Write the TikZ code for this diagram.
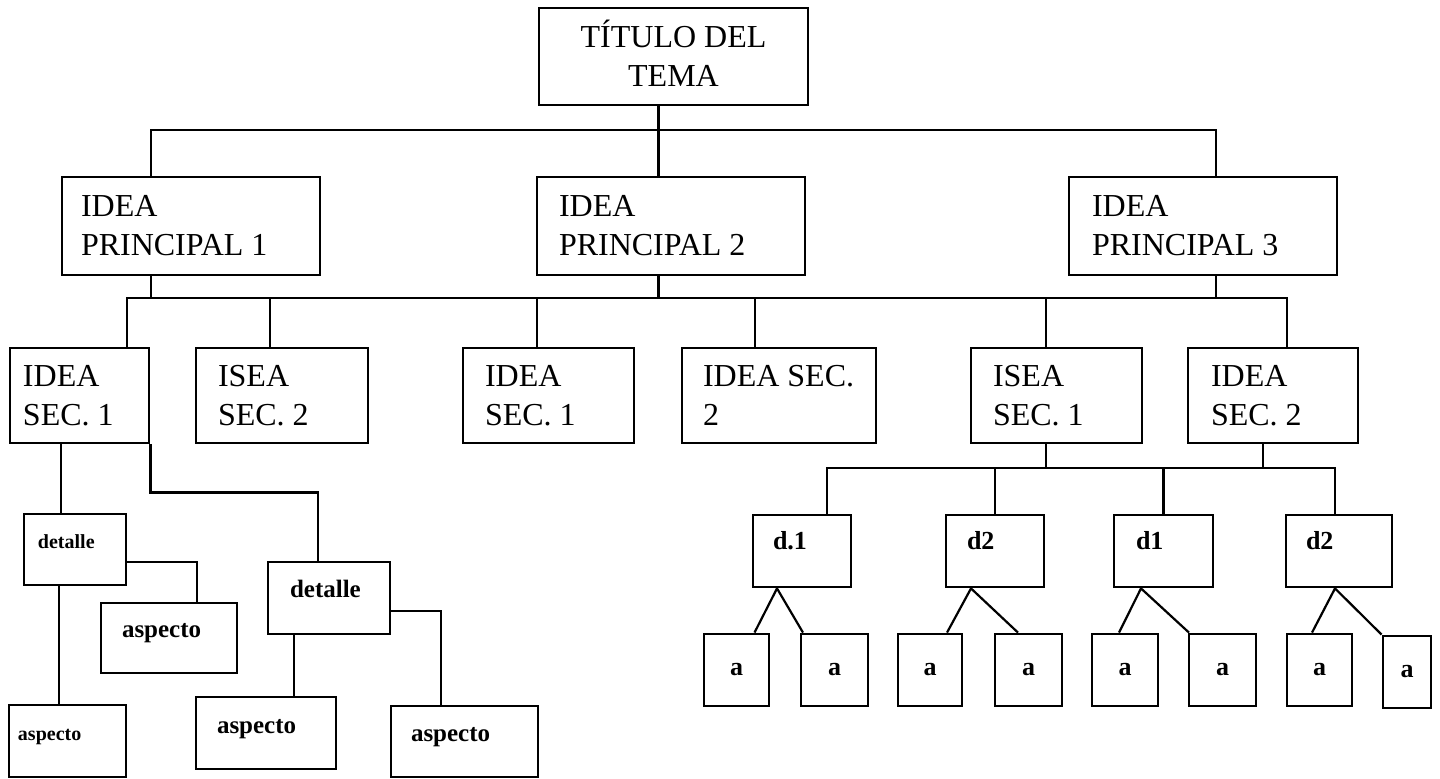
\documentclass[tikz,border=0pt]{standalone}
\usepackage{fontspec}
\setmainfont{Liberation Serif}
\frenchspacing

\begin{document}
\begin{tikzpicture}[x=0.5pt, y=-0.5pt,
	ideabox/.style={draw, line width=1.4pt, inner sep=0pt, align=flush left, font=\fontsize{16pt}{19.5pt}\selectfont},
	detbox/.style={draw, line width=1.4pt, inner sep=0pt, align=flush left, font=\bfseries\fontsize{12.5pt}{14pt}\selectfont, text height=17.5pt, text depth=18pt},
	abox/.style={draw, line width=1.4pt, inner sep=0pt, align=center, font=\bfseries\fontsize{13pt}{15pt}\selectfont, text height=20.5pt, text depth=15.5pt},
	conn/.style={line width=1.1pt}]
	\useasboundingbox (0,0) rectangle (1440,778);

	% Title
	\node[ideabox, align=center, minimum width=134.5pt, minimum height=48.5pt] (titulo) at (673.5,56.5) {T\smash{Í}TULO DEL\\TEMA};

	% Main ideas
	\node[ideabox, minimum width=129pt, minimum height=49pt, text width=110pt] (ideaA) at (191,226) {IDEA\\PRINCIPAL 1};
	\node[ideabox, minimum width=134pt, minimum height=49pt, text width=112pt] (ideaB) at (671,226) {IDEA\\PRINCIPAL 2};
	\node[ideabox, minimum width=134pt, minimum height=49pt, text width=111pt] (ideaC) at (1203,226) {IDEA\\PRINCIPAL 3};

	% Secondary ideas
	\node[ideabox, minimum width=69.5pt, minimum height=47.5pt, text width=56.5pt] (secA) at (79.5,395.5) {IDEA\\SEC. 1};
	\node[ideabox, minimum width=86pt, minimum height=47.5pt, text width=64pt] (secB) at (282,395.5) {ISEA\\SEC. 2};
	\node[ideabox, minimum width=85.5pt, minimum height=47.5pt, text width=63.5pt] (secC) at (548.5,395.5) {IDEA\\SEC. 1};
	\node[ideabox, minimum width=97pt, minimum height=47.5pt, text width=76pt] (secD) at (779,395.5) {IDEA~SEC.\\2};
	\node[ideabox, minimum width=85.5pt, minimum height=47.5pt, text width=63.5pt] (secE) at (1056.5,395.5) {ISEA\\SEC. 1};
	\node[ideabox, minimum width=85pt, minimum height=47.5pt, text width=62pt] (secF) at (1273,395.5) {IDEA\\SEC. 2};

	% Details and aspects (left)
	\node[detbox, font=\bfseries\fontsize{10pt}{12pt}\selectfont, minimum width=51pt, text width=37pt, text height=17pt, text depth=18.5pt] (detA) at (75,549.5) {detalle};
	\node[detbox, minimum width=61pt, text width=39pt, text depth=18.5pt] (detB) at (329,598) {detalle};
	\node[detbox, minimum width=68pt, text width=47pt, text height=17pt] (aspA) at (169,638) {aspecto};
	\node[detbox, font=\bfseries\fontsize{10pt}{12pt}\selectfont, minimum width=58.5pt, text width=49.5pt, text depth=18.5pt] (aspB) at (67.5,741) {aspecto};
	\node[detbox, minimum width=70pt, text width=49pt, text height=18pt] (aspC) at (266,733) {aspecto};
	\node[detbox, minimum width=73.5pt, text width=53.5pt] (aspD) at (464.5,741.5) {aspecto};

	% Details (right)
	\node[detbox, font=\bfseries\fontsize{13pt}{15pt}\selectfont, minimum width=49pt, text width=29pt, text height=17pt, text depth=19pt] (dA) at (802,551) {d.1};
	\node[detbox, font=\bfseries\fontsize{13pt}{15pt}\selectfont, minimum width=49pt, text width=28pt, text height=17pt, text depth=19pt] (dB) at (995,551) {d2};
	\node[detbox, font=\bfseries\fontsize{13pt}{15pt}\selectfont, minimum width=49.5pt, text width=27.5pt, text height=17pt, text depth=19pt] (dC) at (1163.5,551) {d1};
	\node[detbox, font=\bfseries\fontsize{13pt}{15pt}\selectfont, minimum width=53pt, text width=33pt, text height=17pt, text depth=19pt] (dD) at (1339,551) {d2};

	% Aspects (right)
	\node[abox, minimum width=32.5pt] (aA) at (736.5,670) {a};
	\node[abox, minimum width=33.5pt] (aB) at (834.5,670) {a};
	\node[abox, minimum width=32pt] (aC) at (930,670) {a};
	\node[abox, minimum width=33.5pt] (aD) at (1028.5,670) {a};
	\node[abox, minimum width=33pt] (aE) at (1125,670) {a};
	\node[abox, minimum width=33.5pt] (aF) at (1222.5,670) {a};
	\node[abox, minimum width=32.5pt] (aG) at (1319.5,670) {a};
	\node[abox, minimum width=24pt] (aH) at (1407,672) {a};

	% Level 1
	\coordinate (busone) at (658.5,130);
	\draw[conn] ([xshift=-7.5pt]titulo.south) -- (busone) -- ([xshift=-6.25pt]ideaB.north);
	\draw[conn] ([xshift=-20pt]ideaA.north) |- (busone) -| ([xshift=6.5pt]ideaC.north);

	% Level 2
	\coordinate (bustwo) at (658.5,298);
	\draw[conn] ([xshift=-6.25pt]ideaB.south) -- (bustwo);
	\draw[conn] ([xshift=-20pt]ideaA.south) -- ([xshift=-20pt]ideaA.south |- bustwo);
	\draw[conn] ([xshift=6.5pt]ideaC.south) -- ([xshift=6.5pt]ideaC.south |- bustwo);
	\draw[conn] ([xshift=23.75pt]secA.north) |- (bustwo) -| ([xshift=7pt]secF.north);
	\draw[conn] ([xshift=-6pt]secB.north) -- ([xshift=-6pt]secB.north |- bustwo);
	\draw[conn] ([xshift=-5.75pt]secC.north) -- ([xshift=-5.75pt]secC.north |- bustwo);
	\draw[conn] ([xshift=-12pt]secD.north) -- ([xshift=-12pt]secD.north |- bustwo);
	\draw[conn] ([xshift=-5.25pt]secE.north) -- ([xshift=-5.25pt]secE.north |- bustwo);

	% Level 3 (left)
	\draw[conn] ([xshift=-7pt]detA.north |- secA.south) -- ([xshift=-7pt]detA.north);
	\draw[conn] (secA.south east) -- ++(0,48) -| ([xshift=-5.5pt]detB.north);
	\draw[conn] ([yshift=-6.25pt]detA.east) -| ([xshift=14pt]aspA.north);
	\draw[conn] ([xshift=-8pt]detA.south) -- ([xshift=-8pt]detA.south |- aspB.north);
	\draw[conn] ([xshift=-17.5pt]detB.south) -- ([xshift=-17.5pt]detB.south |- aspC.north);
	\draw[conn] ([yshift=-6.5pt]detB.east) -| ([xshift=-11.75pt]aspD.north);

	% Level 3 (right)
	\coordinate (busthree) at (1046,468);
	\draw[conn] ([xshift=-5.25pt]secE.south) -- (busthree);
	\draw[conn] ([xshift=-5pt]secF.south) -- ([xshift=-5pt]secF.south |- busthree);
	\draw[conn] ([xshift=12.5pt]dA.north) |- ([xshift=-2pt]dD.north |- busthree) -- ([xshift=-2pt]dD.north);
	\draw[conn] (dB.north) -- (dB.north |- busthree);
	\draw[conn] (dC.north) -- (dC.north |- busthree);

	% Level 4 (right)
	\draw[conn] ([xshift=9pt]aA.north) -- ([xshift=-12.5pt]dA.south) -- ([xshift=-15.75pt]aB.north);
	\draw[conn] ([xshift=8.5pt]aC.north) -- ([xshift=-12pt]dB.south) -- ([xshift=-5.25pt]aD.north);
	\draw[conn] ([xshift=-3pt]aE.north) -- ([xshift=-11.25pt]dC.south) -- ([xshift=-16.75pt]aF.north);
	\draw[conn] ([xshift=-3.75pt]aG.north) -- ([xshift=-2pt]dD.south) -- (aH.north west);
\end{tikzpicture}
\end{document}
